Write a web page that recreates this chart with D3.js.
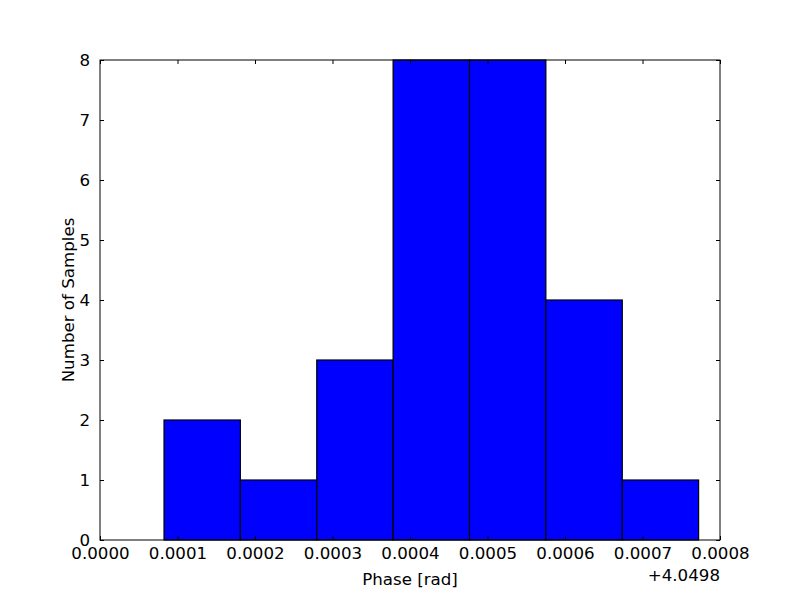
<!DOCTYPE html>
<html><head><meta charset="utf-8">
<script src="https://cdn.jsdelivr.net/npm/d3@7"></script>
<style>body{margin:0;background:#fff}svg{display:block}text{font-family:"DejaVu Sans",sans-serif}</style>
</head><body>
<svg id="c" width="800" height="600"></svg>
<script>
// bin edges (offset from 4.0498 rad)
const binEdges = [0.0000826, 0.0001811, 0.0002797, 0.0003782, 0.0004768, 0.0005753, 0.0006739, 0.0007724];
const counts = [2, 1, 3, 8, 8, 4, 1];
const xTicks = [0, 0.0001, 0.0002, 0.0003, 0.0004, 0.0005, 0.0006, 0.0007, 0.0008];
const yTicks = [0, 1, 2, 3, 4, 5, 6, 7, 8];
const offsetText = "+4.0498";

const svg = d3.select("#c");
const L = 100, R = 720, T = 60, B = 540;
const x = d3.scaleLinear().domain([0, 0.0008]).range([L, R]);
const y = d3.scaleLinear().domain([0, 8]).range([B, T]);
const fs = 16.67;

const bins = counts.map((c, i) => ({x0: binEdges[i], x1: binEdges[i + 1], c}));
svg.append("g").selectAll("rect").data(bins).join("rect")
  .attr("x", d => x(d.x0)).attr("y", d => y(d.c))
  .attr("width", d => x(d.x1) - x(d.x0)).attr("height", d => y(0) - y(d.c))
  .attr("fill", "#0000ff").attr("stroke", "#000").attr("stroke-width", 1.2);

const fmt = d3.format(".4f");
const ax = (axis, tr) => svg.append("g").attr("transform", tr).call(axis)
  .call(g => g.select(".domain").remove())
  .call(g => g.selectAll("line").attr("stroke", "#000"));

ax(d3.axisBottom(x).tickValues(xTicks).tickSizeInner(-4).tickSizeOuter(0).tickPadding(7).tickFormat(fmt), `translate(0,${B})`)
  .selectAll("text").attr("font-size", fs).attr("fill", "#000").attr("font-family", "DejaVu Sans");
ax(d3.axisTop(x).tickValues(xTicks).tickSizeInner(-4).tickSizeOuter(0).tickFormat(""), `translate(0,${T})`);
ax(d3.axisLeft(y).tickValues(yTicks).tickSizeInner(-4).tickSizeOuter(0).tickPadding(10).tickFormat(d3.format("d")), `translate(${L},0)`)
  .selectAll("text").attr("font-size", fs).attr("fill", "#000").attr("font-family", "DejaVu Sans");
ax(d3.axisRight(y).tickValues(yTicks).tickSizeInner(-4).tickSizeOuter(0).tickFormat(""), `translate(${R},0)`);

svg.append("rect").attr("x", L).attr("y", T).attr("width", R - L).attr("height", B - T)
  .attr("fill", "none").attr("stroke", "#000").attr("stroke-width", 1);

svg.append("text").attr("x", R).attr("y", 581).attr("text-anchor", "end")
  .attr("font-size", fs).text(offsetText);
svg.append("text").attr("x", (L + R) / 2).attr("y", 585).attr("text-anchor", "middle")
  .attr("font-size", fs).text("Phase [rad]");
svg.append("text").attr("transform", `translate(74,${(T + B) / 2}) rotate(-90)`).attr("text-anchor", "middle")
  .attr("font-size", fs).text("Number of Samples");
</script>
</body></html>
